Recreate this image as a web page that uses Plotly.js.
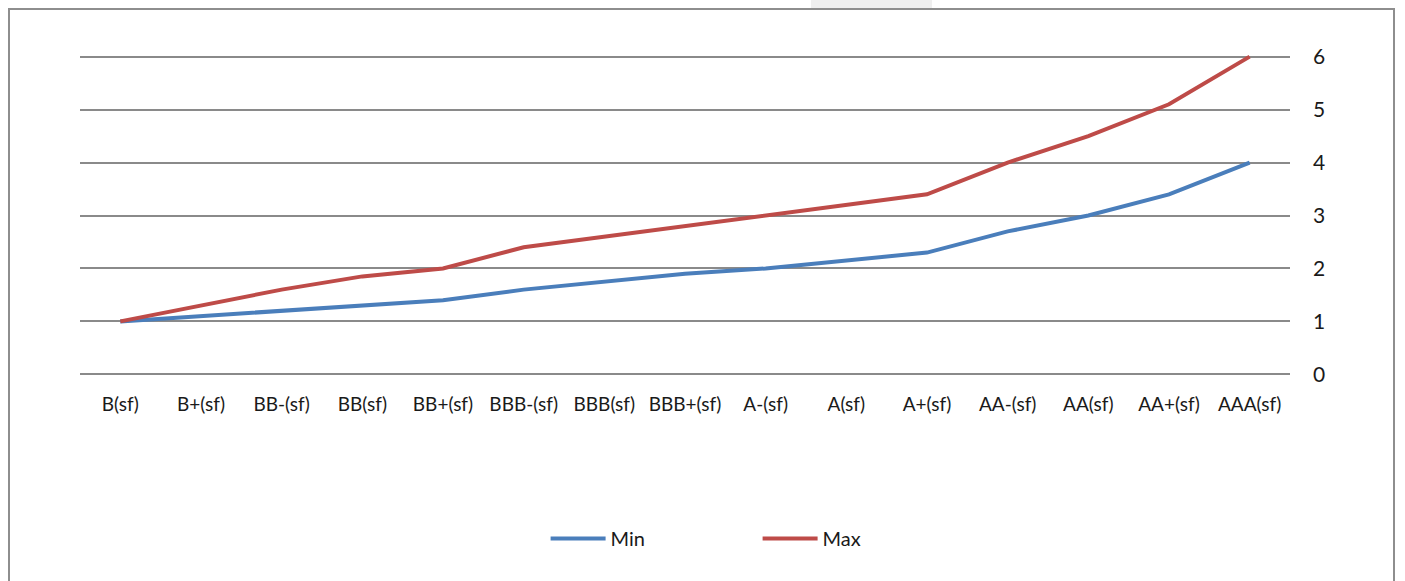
<!DOCTYPE html>
<html>
<head>
<meta charset="utf-8">
<script src="https://cdn.plot.ly/plotly-3.0.1.min.js"></script>
<style>
  html, body { margin: 0; padding: 0; background: #ffffff; width: 1405px; height: 581px; overflow: hidden; }
  #frame { position: absolute; left: 8px; top: 8px; width: 1387px; height: 600px; border: 2px solid #8e8e8e; box-sizing: border-box; }
  #tab { position: absolute; left: 811px; top: 0px; width: 121px; height: 8px; background: #efefef; }
  #chart { position: absolute; left: 0; top: 0; width: 1405px; height: 581px; }
</style>
</head>
<body>
<div id="tab"></div>
<div id="frame"></div>
<div id="chart"></div>
<script>
const categories = ["B(sf)", "B+(sf)", "BB-(sf)", "BB(sf)", "BB+(sf)", "BBB-(sf)", "BBB(sf)", "BBB+(sf)", "A-(sf)", "A(sf)", "A+(sf)", "AA-(sf)", "AA(sf)", "AA+(sf)", "AAA(sf)"];
const minValues = [1.0, 1.1, 1.2, 1.3, 1.4, 1.6, 1.75, 1.9, 2.0, 2.15, 2.3, 2.7, 3.0, 3.4, 4.0];
const maxValues = [1.0, 1.3, 1.6, 1.85, 2.0, 2.4, 2.6, 2.8, 3.0, 3.2, 3.4, 4.0, 4.5, 5.1, 6.0];
const yTicks = [0, 1, 2, 3, 4, 5, 6];

const font = "'Century Gothic', 'Lato', 'DejaVu Sans', sans-serif";

const traces = [
  { x: categories, y: minValues, name: "Min", type: "scatter", mode: "lines",
    line: { color: "#4a7ebb", width: 4 } },
  { x: categories, y: maxValues, name: "Max", type: "scatter", mode: "lines",
    line: { color: "#be4b48", width: 4 } }
];

const layout = {
  width: 1405, height: 581,
  paper_bgcolor: "rgba(0,0,0,0)", plot_bgcolor: "rgba(0,0,0,0)",
  margin: { l: 80, r: 115, t: 54, b: 204 },
  font: { family: font, size: 19, color: "#1a1a1a" },
  showlegend: true,
  legend: { orientation: "h", x: 0.56, xanchor: "center", y: -0.50, yanchor: "middle",
            font: { family: font, size: 20, color: "#1a1a1a" }, itemwidth: 55,
            entrywidth: 142, entrywidthmode: "pixels" },
  xaxis: { type: "category", range: [-0.5, 14.5], showgrid: false, zeroline: false,
           showline: false, ticks: "", ticklabelstandoff: 14, tickfont: { size: 19 } },
  yaxis: { range: [-0.05, 6.05], side: "right", tickvals: yTicks, ticktext: yTicks.map(String),
           showgrid: true, gridcolor: "#8a8a8a", gridwidth: 2, zeroline: false,
           showline: false, ticks: "", ticklabelstandoff: 22, tickfont: { size: 21 } }
};

Plotly.newPlot("chart", traces, layout, { displayModeBar: false, staticPlot: true });
</script>
</body>
</html>
